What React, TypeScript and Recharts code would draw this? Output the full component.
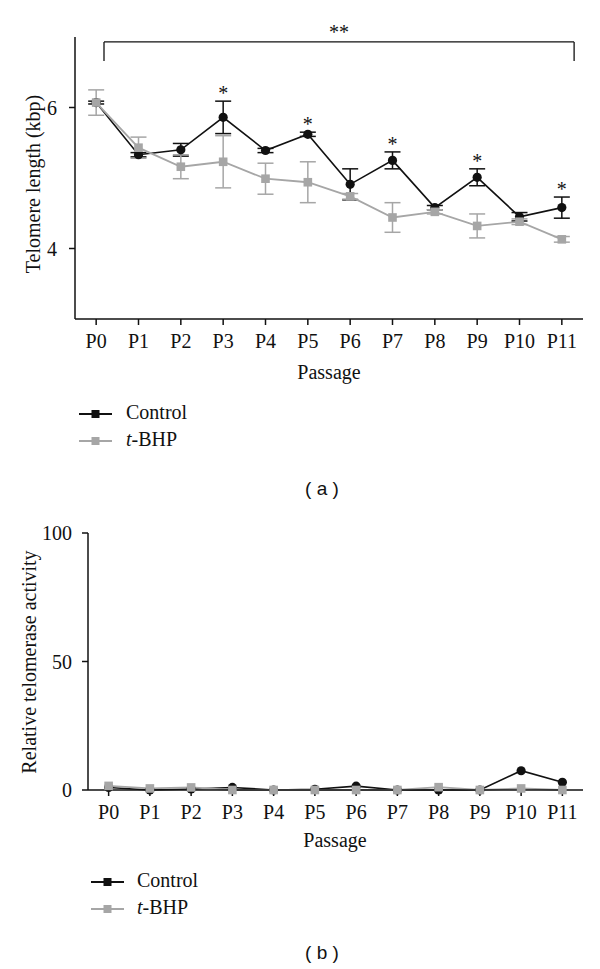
import { LineChart, Line, XAxis, YAxis, ErrorBar, LabelList, ReferenceLine } from 'recharts'

// passages on the x axis
const passages = ['P0', 'P1', 'P2', 'P3', 'P4', 'P5', 'P6', 'P7', 'P8', 'P9', 'P10', 'P11']

// (a) telomere length, kbp
const ctrlLength = [6.07, 5.33, 5.4, 5.86, 5.39, 5.62, 4.91, 5.25, 4.58, 5.01, 4.45, 4.58]
const ctrlLengthErr = [0.02, 0.03, 0.09, 0.23, 0.03, 0.03, 0.22, 0.12, 0.03, 0.12, 0.06, 0.15]
const tbhpLength = [6.07, 5.43, 5.16, 5.23, 4.99, 4.94, 4.74, 4.44, 4.52, 4.32, 4.38, 4.13]
const tbhpLengthErr = [0.18, 0.15, 0.17, 0.37, 0.22, 0.29, 0.04, 0.21, 0.03, 0.17, 0.04, 0.04]
const starred = [false, false, false, true, false, true, false, true, false, true, false, true]
const lengthTicks = [4, 6]

// bracket P0..P11 (**), in axis units
const bracketX = [0.185, 11.29]
const bracketY = [6.93, 6.66]

// (b) relative telomerase activity
const ctrlActivity = [1.0, 0, 0.4, 1.0, 0, 0.3, 1.5, 0, 0, 0, 7.5, 3.0]
const tbhpActivity = [1.6, 0.6, 1.0, 0, 0, 0, 0, 0, 1.1, 0, 0.6, 0]
const activityTicks = [0, 50, 100]

const FONT = '"Liberation Serif", "Times New Roman", serif'
const SANS = '"Liberation Sans", Arial, sans-serif'
const BLACK = '#111'
const GREY = '#a6a6a6'
const FS = 20

const lengthData = passages.map((p, i) => ({
  idx: i,
  ctrl: ctrlLength[i],
  ctrlErr: ctrlLengthErr[i],
  tbhp: tbhpLength[i],
  tbhpErr: tbhpLengthErr[i],
  star: starred[i] ? ctrlLength[i] + ctrlLengthErr[i] : null
}))

const activityData = passages.map((p, i) => ({
  idx: i,
  ctrl: ctrlActivity[i],
  tbhp: tbhpActivity[i]
}))

const xTicks = passages.map((_, i) => i)
const tickStyle = { fill: BLACK, fontSize: FS, fontFamily: FONT }

// rotated y axis title
function AxisTitle({ text, cx, cy }: any) {
  return (
    <text
      x={cx}
      y={cy}
      transform={`rotate(-90 ${cx} ${cy})`}
      textAnchor="middle"
      dominantBaseline="central"
      fontFamily={FONT}
      fontSize={FS}
      fill={BLACK}
    >
      {text}
    </text>
  )
}

const circleDot = (props: any) => {
  const { cx, cy, index } = props
  if (cx == null || cy == null) return <g key={`c-${index}`} />
  return <circle key={`c-${index}`} cx={cx} cy={cy} r={4.6} fill={BLACK} />
}

const squareDot = (props: any) => {
  const { cx, cy, index } = props
  if (cx == null || cy == null) return <g key={`s-${index}`} />
  return <rect key={`s-${index}`} x={cx - 4.3} y={cy - 4.3} width={8.6} height={8.6} fill={GREY} />
}

const StarLabel = (props: any) => {
  const { x, y, value } = props
  if (value == null || x == null || y == null) return null
  return (
    <text x={x} y={y - 1} textAnchor="middle" fontFamily={FONT} fontSize={FS} fill={BLACK}>
      *
    </text>
  )
}

const BracketLabel = (props: any) => {
  const { viewBox } = props
  if (!viewBox) return null
  return (
    <text x={viewBox.x + viewBox.width / 2} y={viewBox.y - 3} textAnchor="middle" fontFamily={FONT} fontSize={FS} fill={BLACK}>
      **
    </text>
  )
}

function LegendBlock({ left, textLeft, top }: any) {
  const row = (color: string, y: number) => (
    <div style={{ position: 'absolute', left, top: y - 6, width: 34, height: 12 }}>
      <svg width={34} height={12}>
        <line x1={0} y1={6} x2={33} y2={6} stroke={color} strokeWidth={2} />
        <rect x={12.5} y={2} width={8} height={8} fill={color} />
      </svg>
    </div>
  )
  const text = (label: any, y: number) => (
    <div style={{ position: 'absolute', left: textLeft, top: y - 12, fontFamily: FONT, fontSize: FS, lineHeight: '24px', color: BLACK, whiteSpace: 'nowrap' }}>
      {label}
    </div>
  )
  return (
    <>
      {row(BLACK, top)}
      {text('Control', top)}
      {row(GREY, top + 27)}
      {text(<><i>t</i>-BHP</>, top + 27)}
    </>
  )
}

function Centered({ x, y, children, style }: any) {
  return (
    <div style={{ position: 'absolute', left: x, top: y, transform: 'translate(-50%, -50%)', whiteSpace: 'pre', lineHeight: 1, color: BLACK, ...style }}>
      {children}
    </div>
  )
}

export default function App() {
  return (
    <div style={{ position: 'absolute', left: 0, top: 0, width: 600, height: 969, background: '#fff', overflow: 'hidden' }}>
      {/* (a) telomere length */}
      <div style={{ position: 'absolute', left: 0, top: 0 }}>
        <LineChart width={600} height={365} data={lengthData} margin={{ top: 37, right: 17, left: 0, bottom: 0 }}>
          <XAxis
            dataKey="idx"
            type="number"
            domain={[-0.5, 11.5]}
            ticks={xTicks}
            interval={0}
            tickFormatter={(v: number) => passages[v]}
            height={46}
            tick={tickStyle}
            tickSize={6}
            tickMargin={9}
            stroke={BLACK}
            strokeWidth={1.5}
          />
          <YAxis
            domain={[3, 7]}
            ticks={lengthTicks}
            width={75}
            tick={tickStyle}
            tickSize={6}
            tickMargin={12}
            stroke={BLACK}
            strokeWidth={1.5}
            label={<AxisTitle text="Telomere length (kbp)" cx={33} cy={184} />}
          />
          <ReferenceLine
            segment={[{ x: bracketX[0], y: bracketY[0] }, { x: bracketX[1], y: bracketY[0] }]}
            stroke={BLACK}
            strokeWidth={1.3}
            ifOverflow="visible"
            label={<BracketLabel />}
          />
          <ReferenceLine
            segment={[{ x: bracketX[0], y: bracketY[0] }, { x: bracketX[0], y: bracketY[1] }]}
            stroke={BLACK}
            strokeWidth={1.3}
            ifOverflow="visible"
          />
          <ReferenceLine
            segment={[{ x: bracketX[1], y: bracketY[0] }, { x: bracketX[1], y: bracketY[1] }]}
            stroke={BLACK}
            strokeWidth={1.3}
            ifOverflow="visible"
          />
          <Line
            dataKey="ctrl"
            stroke={BLACK}
            strokeWidth={1.6}
            dot={circleDot}
            activeDot={false}
            isAnimationActive={false}
          >
            <ErrorBar dataKey="ctrlErr" width={8} stroke={BLACK} strokeWidth={1.5} direction="y" />
          </Line>
          <Line
            dataKey="tbhp"
            stroke={GREY}
            strokeWidth={1.8}
            dot={squareDot}
            activeDot={false}
            isAnimationActive={false}
          >
            <ErrorBar dataKey="tbhpErr" width={8} stroke={GREY} strokeWidth={1.5} direction="y" />
          </Line>
          <Line
            dataKey="star"
            stroke="none"
            dot={false}
            activeDot={false}
            legendType="none"
            isAnimationActive={false}
          >
            <LabelList dataKey="star" content={StarLabel} />
          </Line>
        </LineChart>
      </div>
      <Centered x={329} y={372} style={{ fontFamily: FONT, fontSize: FS }}>Passage</Centered>
      <LegendBlock left={79} textLeft={126} top={412} />
      <Centered x={322} y={488} style={{ fontFamily: SANS, fontSize: 19 }}>( a )</Centered>

      {/* (b) telomerase activity */}
      <div style={{ position: 'absolute', left: 0, top: 500 }}>
        <LineChart width={600} height={336} data={activityData} margin={{ top: 33, right: 17, left: 0, bottom: 0 }}>
          <XAxis
            dataKey="idx"
            type="number"
            domain={[-0.5, 11.5]}
            ticks={xTicks}
            interval={0}
            tickFormatter={(v: number) => passages[v]}
            height={46}
            tick={tickStyle}
            tickSize={6}
            tickMargin={9}
            stroke={BLACK}
            strokeWidth={1.5}
          />
          <YAxis
            domain={[0, 100]}
            ticks={activityTicks}
            width={88}
            tick={tickStyle}
            tickSize={6}
            tickMargin={10}
            stroke={BLACK}
            strokeWidth={1.5}
            label={<AxisTitle text="Relative telomerase activity" cx={29} cy={162} />}
          />
          <Line
            dataKey="ctrl"
            stroke={BLACK}
            strokeWidth={1.6}
            dot={circleDot}
            activeDot={false}
            isAnimationActive={false}
          />
          <Line
            dataKey="tbhp"
            stroke={GREY}
            strokeWidth={1.8}
            dot={squareDot}
            activeDot={false}
            isAnimationActive={false}
          />
        </LineChart>
      </div>
      <Centered x={335} y={840} style={{ fontFamily: FONT, fontSize: FS }}>Passage</Centered>
      <LegendBlock left={91} textLeft={137} top={880} />
      <Centered x={322} y={952} style={{ fontFamily: SANS, fontSize: 19 }}>( b )</Centered>
    </div>
  )
}
